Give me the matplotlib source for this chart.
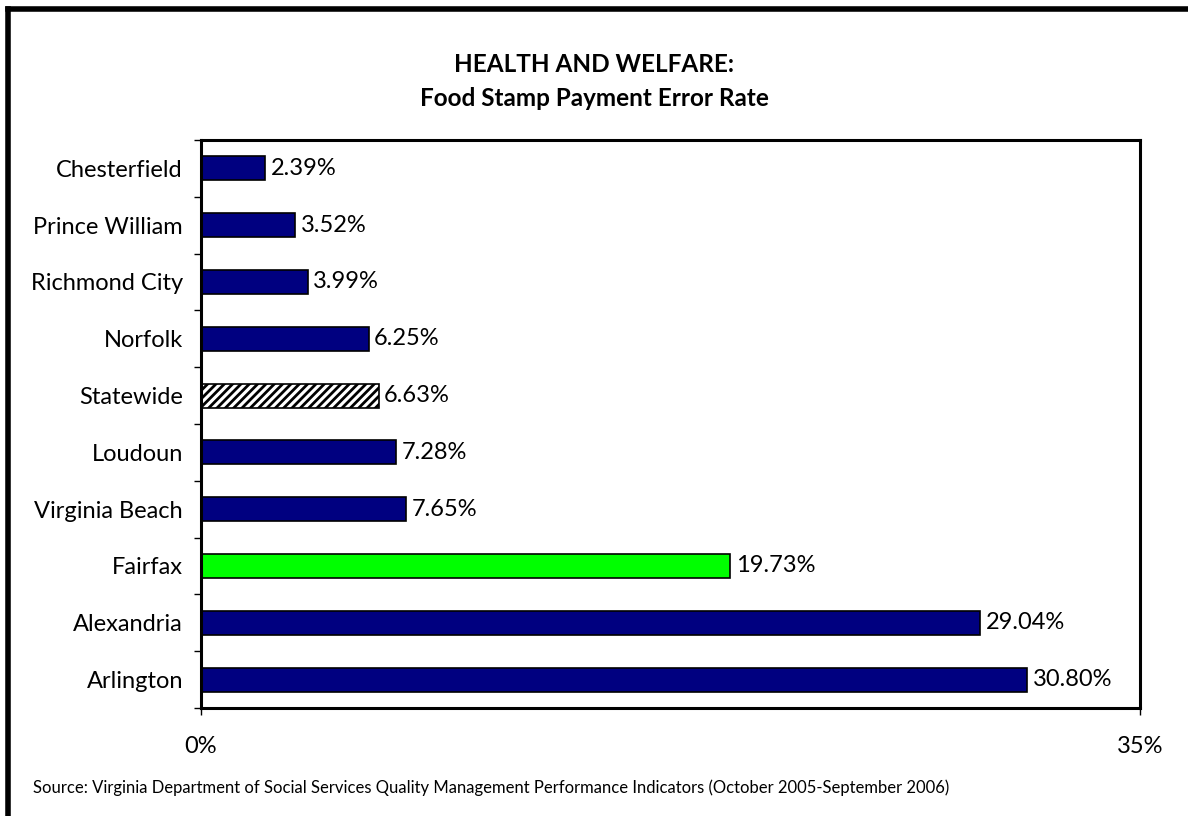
import matplotlib.pyplot as plt
from matplotlib.lines import Line2D
import numpy as np

plt.rcParams['font.family'] = ['Lato', 'DejaVu Sans']
plt.rcParams['hatch.linewidth'] = 2.0

regions = ["Chesterfield", "Prince William", "Richmond City", "Norfolk", "Statewide",
           "Loudoun", "Virginia Beach", "Fairfax", "Alexandria", "Arlington"]
rates = [2.39, 3.52, 3.99, 6.25, 6.63, 7.28, 7.65, 19.73, 29.04, 30.80]
labels = ["2.39%", "3.52%", "3.99%", "6.25%", "6.63%", "7.28%", "7.65%", "19.73%", "29.04%", "30.80%"]

fig = plt.figure(figsize=(11.88, 8.16), dpi=100)
ax = fig.add_axes([201/1188, 1-708/816, (1140-201)/1188, (708-140)/816])

y = np.arange(len(regions))
colors = []
for r in regions:
    if r == "Statewide":
        colors.append("white")
    elif r == "Fairfax":
        colors.append("#00FF00")
    else:
        colors.append("#000080")
bars = ax.barh(y, rates, height=0.42, color=colors, edgecolor="black", linewidth=1.2)
bars[regions.index("Statewide")].set_hatch("////")

for yi, v, lab in zip(y, rates, labels):
    ax.text(v + 0.2, yi, lab, va="center", ha="left", fontsize=17)

ax.set_xlim(0, 35)
ax.set_ylim(len(regions) - 0.5, -0.5)
ax.set_yticks(y)
ax.set_yticklabels(regions, fontsize=17)
ax.tick_params(axis="y", which="major", length=0, pad=13)
ax.set_yticks(np.arange(-0.5, len(regions), 1), minor=True)
ax.tick_params(axis="y", which="minor", length=5, width=1)
ax.set_xticks([0, 35])
ax.set_xticklabels(["0%", "35%"], fontsize=17)
ax.tick_params(axis="x", length=5, width=1, pad=15)
for s in ax.spines.values():
    s.set_linewidth(2.2)

fig.text(0.5, 1-64/816, "HEALTH AND WELFARE:", ha="center", va="center", fontsize=17.5, fontweight="bold")
fig.text(0.5, 1-98/816, "Food Stamp Payment Error Rate", ha="center", va="center", fontsize=17.5, fontweight="bold")
fig.text(33/1188, 1-788/816,
         "Source: Virginia Department of Social Services Quality Management Performance Indicators (October 2005-September 2006)",
         ha="left", va="center", fontsize=12)

# outer frame (left and top edges)
fig.add_artist(Line2D([8/1188, 8/1188], [0, 1-9/816], transform=fig.transFigure, color="black", linewidth=4))
fig.add_artist(Line2D([8/1188, 1], [1-9/816, 1-9/816], transform=fig.transFigure, color="black", linewidth=4))

fig.savefig("out.png", dpi=100)
